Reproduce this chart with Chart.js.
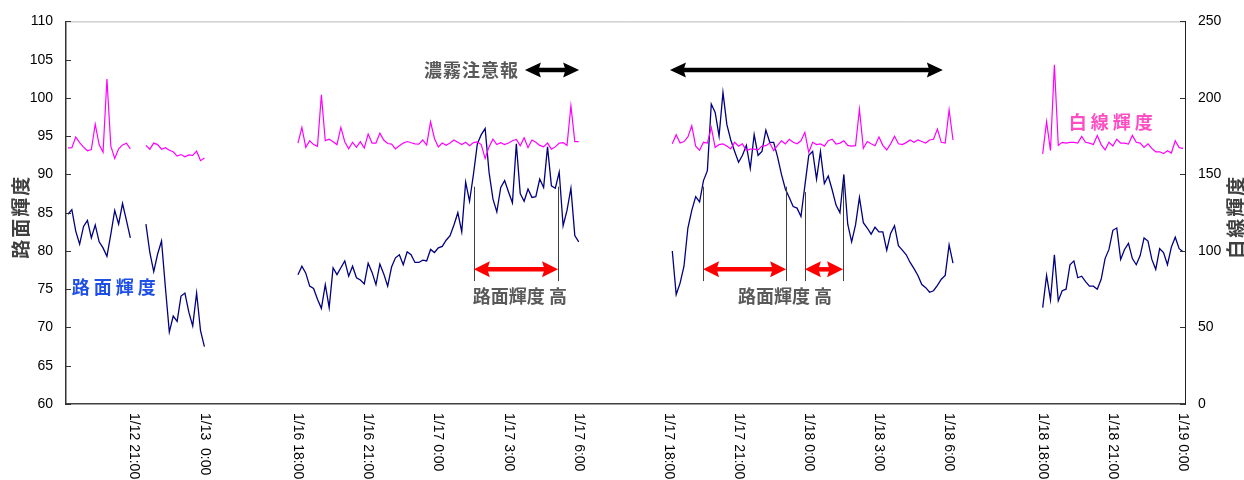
<!DOCTYPE html>
<html>
<head>
<meta charset="utf-8">
<script src="https://cdn.jsdelivr.net/npm/chart.js@4.4.1/dist/chart.umd.min.js"></script>
<style>
  html, body { margin: 0; padding: 0; background: #fff; }
  #wrap { width: 1244px; height: 480px; }
</style>
</head>
<body>
<div id="wrap"><canvas id="chart" width="1244" height="480"></canvas></div>
<script>
// =====================================
// DATA
// =====================================

// 10-minute slots along the axis, the gaps between nights included
const SLOT_COUNT = 287;
const categories = Array.from({ length: SLOT_COUNT }, (_, i) => String(i));

const tickSlots = [17, 35, 59, 77, 95, 113, 131, 154, 172, 190, 208, 226, 250, 268, 286];
const tickLabels = [
  "1/12 21:00", "1/13  0:00",
  "1/16 18:00", "1/16 21:00", "1/17 0:00", "1/17 3:00", "1/17 6:00",
  "1/17 18:00", "1/17 21:00", "1/18 0:00", "1/18 3:00", "1/18 6:00",
  "1/18 18:00", "1/18 21:00", "1/19 0:00"
];

// first slot of each run of readings
const runStarts = [0, 20, 59, 155, 250];

// 路面輝度 (left axis)
const roadA1 = [84.8, 85.4, 82.6, 80.9, 83.2, 84.0, 81.7, 83.4, 81.2, 80.4, 79.3, 82.2, 85.3, 83.5, 86.2, 84.0, 81.7];
const roadA2 = [83.5, 79.8, 77.3, 79.6, 81.3, 75.2, 69.4, 71.5, 70.8, 74.1, 74.5, 72.0, 70.2, 74.5, 69.6, 67.5];
const roadB = [
  76.9, 78.0, 77.1, 75.4, 75.1, 73.7, 72.5, 75.6, 72.6, 77.8,
  76.9, 77.8, 78.7, 76.7, 78.0, 76.5, 76.2, 75.7, 78.4, 77.2,
  75.6, 78.3, 77.0, 75.4, 77.9, 79.1, 79.5, 78.2, 79.9, 79.5,
  78.5, 78.5, 78.8, 78.7, 80.2, 79.8, 80.4, 80.6, 81.4, 82.0,
  83.4, 85.0, 82.5, 89.0, 86.5, 90.0, 94.0, 95.2, 96.0, 90.3,
  86.8, 85.1, 88.3, 89.2, 87.7, 86.3, 94.0, 87.5, 86.5, 88.1,
  87.0, 87.1, 89.4, 88.3, 93.6, 88.5, 88.2, 90.3, 83.3, 85.3,
  88.2, 82.0, 81.2
];
const roadC = [
  80.0, 74.3, 75.8, 78.0, 83.0, 85.3, 87.1, 86.4, 89.2, 90.5,
  99.2, 98.1, 95.0, 100.7, 96.5, 94.5, 93.0, 91.6, 92.5, 93.8,
  90.8, 95.2, 92.5, 93.0, 95.8, 94.2, 94.2, 92.3, 90.0, 88.1,
  87.0, 85.8, 85.6, 84.5, 88.5, 92.5, 93.0, 89.4, 93.0, 88.8,
  89.8, 88.0, 86.0, 85.0, 90.0, 83.5, 81.2, 83.4, 87.0, 83.7,
  83.0, 82.2, 83.1, 82.5, 82.5, 80.1, 82.3, 83.3, 80.7, 80.1,
  79.5, 78.5, 77.7, 76.8, 75.6, 75.2, 74.6, 74.8, 75.5, 76.3,
  76.8, 80.8, 78.4
];
const roadD = [
  72.6, 76.8, 73.6, 79.5, 73.5, 74.8, 75.0, 78.2, 78.7, 76.5,
  76.7, 76.0, 75.4, 75.4, 75.0, 76.3, 79.0, 80.2, 82.7, 83.0,
  78.9, 80.2, 81.0, 79.0, 78.2, 79.4, 81.7, 81.3, 78.9, 77.6,
  80.3, 79.8, 78.2, 80.5, 81.8, 80.3, 79.9
];

// 白線輝度 (right axis)
const lineA1 = [167.3, 167.5, 174.5, 170.8, 167.8, 165.5, 166.2, 182.8, 169.5, 164.5, 212.4, 168.5, 160.5, 166.8, 169.3, 170.4, 166.7];
const lineA2 = [169.0, 166.5, 170.5, 169.5, 166.5, 167.5, 165.8, 164.8, 162.0, 163.0, 161.5, 162.8, 162.5, 165.2, 159.0, 160.8];
const lineB = [
  170.5, 180.7, 167.7, 172.0, 169.5, 168.4, 202.0, 172.1, 173.0, 171.4,
  169.5, 180.7, 171.4, 166.8, 171.0, 167.7, 171.4, 167.3, 176.4, 170.5,
  170.5, 177.0, 172.5, 170.2, 169.8, 166.7, 168.8, 170.5, 171.5, 170.7,
  170.0, 169.8, 172.5, 169.2, 184.4, 173.5, 168.0, 170.5, 169.0, 170.5,
  172.5, 171.0, 169.5, 171.0, 168.8, 170.8, 171.2, 169.5, 160.5, 168.0,
  173.0, 169.5, 170.8, 169.5, 170.5, 172.0, 172.8, 168.8, 174.0, 167.5,
  172.5, 171.0, 169.0, 168.0, 170.5, 166.5, 168.0, 170.5, 170.8, 169.0,
  194.8, 171.4, 171.4
];
const lineC = [
  170.0, 176.0, 170.5, 171.5, 174.5, 181.8, 168.5, 165.8, 171.0, 170.5,
  180.7, 167.7, 169.5, 170.0, 168.5, 166.7, 171.0, 168.5, 170.0, 165.6,
  166.5, 166.5, 166.0, 168.5, 168.8, 170.5, 165.6, 169.0, 172.0, 170.0,
  173.0, 171.0, 170.0, 172.0, 177.5, 164.5, 171.0, 169.5, 170.0, 168.5,
  172.0, 173.0, 169.9, 170.5, 172.0, 169.0, 168.5, 168.8, 192.6, 167.0,
  171.5, 170.0, 168.8, 174.5, 169.0, 166.0, 170.0, 174.9, 170.0, 169.5,
  170.8, 172.5, 171.0, 172.5, 171.5, 170.5, 172.5, 173.0, 179.6, 171.0,
  170.5, 192.2, 172.5
];
const lineD = [
  163.4, 184.4, 165.6, 221.7, 169.0, 171.0, 170.5, 171.0, 171.0, 170.5,
  174.8, 171.0, 170.5, 169.5, 175.5, 169.5, 166.0, 171.0, 168.5, 173.0,
  170.5, 170.5, 169.8, 175.5, 171.0, 170.5, 167.7, 170.0, 167.0, 164.8,
  164.8, 163.6, 165.5, 164.0, 172.0, 167.5, 167.0
];

// spread the runs over the slots, null = no reading
function toSlots(runs){
  const out = new Array(SLOT_COUNT).fill(null);
  runs.forEach((run, r) => {
    run.forEach((v, k) => { out[runStarts[r] + k] = v; });
  });
  return out;
}

const roadData = toSlots([roadA1, roadA2, roadB, roadC, roadD]);
const lineData = toSlots([lineA1, lineA2, lineB, lineC, lineD]);

// =====================================
// ANNOTATIONS (slot, left-axis value)
// =====================================

const notes = {
  fogY: 103.65,
  fogArrows: [[117.2, 131.1], [154.4, 224.4]],
  highY: 77.6,
  highArrows: [[104.1, 125.7], [162.9, 184.2], [189.0, 198.8]],
  highMarks: [[104.1, 88.4], [125.7, 88.4], [162.9, 88.4], [184.2, 88.4], [189.0, 87.7], [198.8, 89.0]],
  markBottom: 76.06
};

const CJK = '"Noto Sans CJK JP", "Noto Sans CJK SC", sans-serif';

function doubleArrow(ctx, x1, x2, yy, color, lw, hl, hw){
  ctx.save();
  ctx.strokeStyle = color;
  ctx.fillStyle = color;
  ctx.lineWidth = lw;
  ctx.beginPath();
  ctx.moveTo(x1 + hl * 0.8, yy);
  ctx.lineTo(x2 - hl * 0.8, yy);
  ctx.stroke();
  [[x1, 1], [x2, -1]].forEach(([tx, d]) => {
    ctx.beginPath();
    ctx.moveTo(tx, yy);
    ctx.lineTo(tx + d * hl, yy - hw);
    ctx.lineTo(tx + d * hl * 0.85, yy);
    ctx.lineTo(tx + d * hl, yy + hw);
    ctx.closePath();
    ctx.fill();
  });
  ctx.restore();
}

function label(ctx, text, x, y, font, color, align, spacing){
  ctx.save();
  ctx.font = font;
  ctx.fillStyle = color;
  ctx.textAlign = align;
  ctx.textBaseline = "middle";
  if(spacing) ctx.letterSpacing = spacing + "px";
  ctx.fillText(text, x, y);
  ctx.restore();
}

const overlay = {
  id: "overlay",
  afterDatasetsDraw(chart){
    const { ctx, scales: { x, y } } = chart;
    const px = v => x.getPixelForValue(v);
    const py = v => y.getPixelForValue(v);

    // thin marks where the road luminance is high
    ctx.save();
    ctx.strokeStyle = "#404040";
    ctx.lineWidth = 1;
    notes.highMarks.forEach(([s, top]) => {
      const xx = Math.round(px(s)) + 0.5;
      ctx.beginPath();
      ctx.moveTo(xx, py(top));
      ctx.lineTo(xx, py(notes.markBottom));
      ctx.stroke();
    });
    ctx.restore();

    notes.highArrows.forEach(([s1, s2]) => {
      doubleArrow(ctx, px(s1), px(s2), py(notes.highY), "#ff0000", 4.5, 16, 8);
    });
    notes.fogArrows.forEach(([s1, s2]) => {
      doubleArrow(ctx, px(s1), px(s2), py(notes.fogY), "#000000", 4.5, 16, 7.5);
    });

    label(ctx, "濃霧注意報", px(115.7), py(notes.fogY), "bold 18px " + CJK, "#595959", "right", 1);
    label(ctx, "路面輝度 高", px(115.9), py(74.12), "bold 18px " + CJK, "#595959", "center");
    label(ctx, "路面輝度 高", px(183.9), py(74.12), "bold 18px " + CJK, "#595959", "center");
    label(ctx, "路面輝度", px(1.0), py(75.28), "bold 18px " + CJK, "#1e50e6", "left", 4);
    label(ctx, "白線輝度", px(256.7), py(96.79), "bold 18px " + CJK, "#ff4dc4", "left", 4);
  },
  afterDraw(chart){
    const { ctx, chartArea: a, scales: { x, y, y1 } } = chart;

    // light top border of the plot
    ctx.save();
    ctx.strokeStyle = "#b8b8b8";
    ctx.lineWidth = 1;
    ctx.beginPath();
    ctx.moveTo(a.left, a.top + 0.5);
    ctx.lineTo(a.right, a.top + 0.5);
    ctx.stroke();

    // inward tick marks
    ctx.strokeStyle = "#333";
    y.ticks.forEach(t => {
      const yy = Math.round(y.getPixelForValue(t.value)) + 0.5;
      ctx.beginPath(); ctx.moveTo(a.left, yy); ctx.lineTo(a.left + 5, yy); ctx.stroke();
    });
    y1.ticks.forEach(t => {
      const yy = Math.round(y1.getPixelForValue(t.value)) + 0.5;
      ctx.beginPath(); ctx.moveTo(a.right - 5, yy); ctx.lineTo(a.right, yy); ctx.stroke();
    });
    ctx.restore();

    // time labels, turned clockwise
    ctx.save();
    ctx.font = '14px "Liberation Sans", Arial, sans-serif';
    ctx.fillStyle = "#000";
    ctx.textAlign = "left";
    ctx.textBaseline = "middle";
    tickSlots.forEach((s, k) => {
      ctx.save();
      ctx.translate(x.getPixelForValue(s), a.bottom + 9);
      ctx.rotate(Math.PI / 2);
      ctx.fillText(tickLabels[k], 0, 0);
      ctx.restore();
    });
    ctx.restore();

    // axis titles, both reading upwards
    [["路面輝度", 21], ["白線輝度", 1236]].forEach(([t, xx]) => {
      ctx.save();
      ctx.translate(xx, (a.top + a.bottom) / 2 + 4);
      ctx.rotate(-Math.PI / 2);
      label(ctx, t, 0, 0, "bold 19px " + CJK, "#404040", "center", 2);
      ctx.restore();
    });
  }
};

// =====================================
// CHART
// =====================================

const tickFont = { family: '"Liberation Sans", Arial, sans-serif', size: 14 };

new Chart(document.getElementById("chart"), {
  type: "line",
  data: {
    labels: categories,
    datasets: [
      {
        label: "白線輝度",
        data: lineData,
        yAxisID: "y1",
        borderColor: "#ff00ff",
        borderWidth: 1.2,
        pointRadius: 0,
        tension: 0,
        spanGaps: false,
        order: 0
      },
      {
        label: "路面輝度",
        data: roadData,
        yAxisID: "y",
        borderColor: "#000080",
        borderWidth: 1.3,
        pointRadius: 0,
        tension: 0,
        spanGaps: false,
        order: 1
      }
    ]
  },
  options: {
    responsive: false,
    animation: false,
    devicePixelRatio: 1,
    layout: { padding: { top: 18, left: 0, right: 0, bottom: 0 } },
    plugins: { legend: { display: false }, tooltip: { enabled: false } },
    scales: {
      x: {
        type: "category",
        offset: true,
        grid: { display: false, drawTicks: false },
        border: { color: "#404040", width: 1.5 },
        ticks: { display: false },
        afterFit(scale){ scale.height = 76; }
      },
      y: {
        position: "left",
        min: 60,
        max: 110,
        grid: { display: false, drawTicks: false },
        border: { color: "#333", width: 1.5 },
        ticks: { stepSize: 5, padding: 13, color: "#000", font: tickFont },
        afterFit(scale){ scale.width = 66; }
      },
      y1: {
        position: "right",
        min: 0,
        max: 250,
        grid: { display: false, drawTicks: false },
        border: { color: "#222", width: 1 },
        ticks: { stepSize: 50, padding: 13, color: "#000", font: tickFont },
        afterFit(scale){ scale.width = 59; }
      }
    }
  },
  plugins: [overlay]
});
</script>
</body>
</html>
